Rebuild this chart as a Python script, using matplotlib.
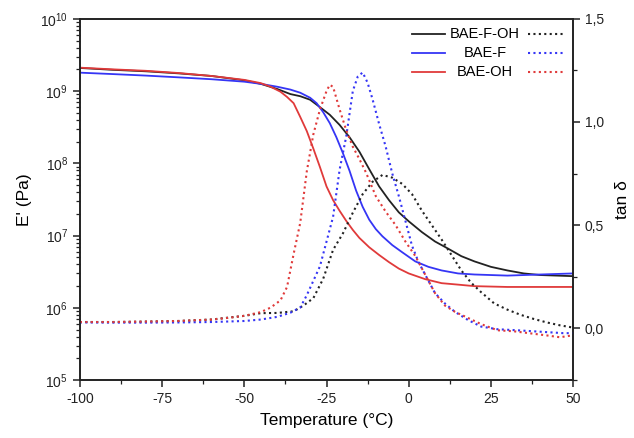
import matplotlib
matplotlib.use("Agg")
import matplotlib.pyplot as plt
from matplotlib.ticker import LogLocator, MultipleLocator, FuncFormatter, NullFormatter

plt.rcParams['font.family'] = ['Liberation Sans', 'DejaVu Sans']
plt.rcParams['mathtext.fontset'] = 'custom'
plt.rcParams['mathtext.rm'] = 'Liberation Sans'
plt.rcParams['mathtext.it'] = 'Liberation Sans:italic'
plt.rcParams['mathtext.bf'] = 'Liberation Sans:bold'
plt.rcParams['axes.unicode_minus'] = False

names = ['BAE-F-OH', 'BAE-F', 'BAE-OH']
colors = ['#222222', '#3535f5', '#e03a3a']

# storage modulus E' (Pa)
t_e_foh = [-100, -90, -80, -70, -60, -50, -45, -40, -36, -33, -30, -27, -24, -21, -18, -15,
           -12, -9, -6, -3, 0, 4, 8, 12, 16, 20, 25, 30, 35, 40, 45, 50]
e_foh = [2.09e9, 1.97e9, 1.88e9, 1.76e9, 1.62e9, 1.41e9, 1.26e9, 1.07e9, 9.1e8, 8.5e8, 7.6e8,
         6.0e8, 4.7e8, 3.4e8, 2.3e8, 1.45e8, 8.3e7, 4.8e7, 3.1e7, 2.1e7, 1.58e7, 1.12e7, 8.3e6,
         6.6e6, 5.2e6, 4.4e6, 3.7e6, 3.3e6, 3.0e6, 2.85e6, 2.8e6, 2.75e6]

t_e_f = [-100, -90, -80, -70, -60, -50, -45, -40, -36, -33, -30, -28, -26, -24, -22, -20, -18,
         -16, -14, -12, -10, -8, -5, -2, 2, 6, 10, 15, 20, 30, 40, 50]
e_f = [1.8e9, 1.72e9, 1.64e9, 1.55e9, 1.46e9, 1.35e9, 1.26e9, 1.15e9, 1.05e9, 9.5e8, 8.1e8,
       6.8e8, 5.1e8, 3.6e8, 2.3e8, 1.38e8, 7.9e7, 4.2e7, 2.5e7, 1.66e7, 1.23e7, 9.8e6, 7.4e6,
       5.9e6, 4.4e6, 3.7e6, 3.3e6, 3.0e6, 2.9e6, 2.8e6, 2.9e6, 3.0e6]

t_e_oh = [-100, -90, -80, -70, -60, -50, -45, -42, -39, -37, -35, -33, -31, -29, -27, -25, -23,
          -21, -19, -17, -15, -12, -9, -6, -3, 0, 5, 10, 15, 20, 30, 40, 50]
e_oh = [2.11e9, 2.0e9, 1.91e9, 1.78e9, 1.62e9, 1.43e9, 1.29e9, 1.15e9, 9.8e8, 8.3e8, 6.8e8,
        4.4e8, 2.8e8, 1.6e8, 8.9e7, 4.8e7, 3.1e7, 2.2e7, 1.6e7, 1.2e7, 9.3e6, 6.9e6, 5.4e6,
        4.3e6, 3.5e6, 3.0e6, 2.5e6, 2.2e6, 2.1e6, 2.0e6, 1.95e6, 1.95e6, 1.95e6]

# tan delta
t_d_foh = [-100, -90, -80, -70, -60, -50, -45, -40, -35, -32, -29, -26, -23, -20, -17, -14, -11,
           -8, -5, -2, 1, 4, 7, 10, 13, 16, 19, 22, 26, 30, 34, 38, 42, 46, 50]
d_foh = [0.03, 0.03, 0.032, 0.035, 0.042, 0.06, 0.073, 0.074, 0.082, 0.11, 0.146, 0.24, 0.38,
         0.46, 0.56, 0.65, 0.71, 0.743, 0.73, 0.70, 0.65, 0.57, 0.50, 0.43, 0.355, 0.28, 0.22,
         0.175, 0.12, 0.09, 0.065, 0.045, 0.028, 0.014, 0.003]

t_d_f = [-100, -90, -80, -70, -60, -50, -45, -40, -36, -33, -31, -29, -27, -25, -23, -21, -19,
         -17, -15.5, -14, -12.5, -11, -9, -7, -5, -3, -1, 1, 3, 5, 8, 11, 14, 18, 22, 27, 33,
         38, 43, 47, 50]
d_f = [0.028, 0.027, 0.027, 0.028, 0.03, 0.035, 0.042, 0.055, 0.075, 0.10, 0.16, 0.23, 0.30,
       0.42, 0.54, 0.77, 0.93, 1.15, 1.22, 1.24, 1.19, 1.11, 0.99, 0.88, 0.75, 0.64, 0.52, 0.40,
       0.32, 0.26, 0.17, 0.12, 0.08, 0.04, 0.008, -0.005, -0.01, -0.015, -0.02, -0.024, -0.024]

t_d_oh = [-100, -90, -80, -70, -60, -55, -50, -45, -42, -39, -37, -35, -33, -31, -29, -27, -25,
          -24, -23, -21, -19, -17, -15, -13, -10, -7, -4, -1, 2, 5, 8, 11, 14, 18, 22, 27, 32,
          37, 42, 46, 50]
d_oh = [0.03, 0.03, 0.032, 0.035, 0.042, 0.05, 0.06, 0.078, 0.10, 0.135, 0.20, 0.36, 0.51,
        0.76, 0.94, 1.06, 1.15, 1.18, 1.17, 1.06, 0.96, 0.88, 0.82, 0.755, 0.64, 0.565, 0.50,
        0.42, 0.35, 0.26, 0.17, 0.11, 0.08, 0.05, 0.02, -0.01, -0.015, -0.025, -0.035, -0.044,
        -0.034]

fig = plt.figure(figsize=(6.34, 4.38), dpi=100)
ax = fig.add_axes([0.126, 0.132, 0.778, 0.825])
ax2 = ax.twinx()

e_data = [(t_e_foh, e_foh), (t_e_f, e_f), (t_e_oh, e_oh)]
d_data = [(t_d_foh, d_foh), (t_d_f, d_f), (t_d_oh, d_oh)]
dot = (0, (1, 1.6))
for (t, e), c in zip(e_data, colors):
    ax.plot(t, e, color=c, lw=1.3)
for (t, d), c in zip(d_data, colors):
    ax2.plot(t, d, color=c, lw=1.5, linestyle=dot)

ax.set_yscale('log')
ax.set_ylim(1e5, 1e10)
ax.set_xlim(-100, 50)
ax.yaxis.set_major_locator(LogLocator(base=10, numticks=10))
ax.yaxis.set_minor_locator(LogLocator(base=10, subs=range(2, 10), numticks=20))
ax.yaxis.set_minor_formatter(NullFormatter())
ax.xaxis.set_major_locator(MultipleLocator(25))
ax.xaxis.set_minor_locator(MultipleLocator(12.5))

ax2.set_ylim(-0.252, 1.5)
ax2.yaxis.set_major_locator(MultipleLocator(0.5))
ax2.yaxis.set_minor_locator(MultipleLocator(0.25))
ax2.yaxis.set_major_formatter(FuncFormatter(lambda v, p: f'{v:.1f}'.replace('.', ',')))

for a in (ax, ax2):
    for s in a.spines.values():
        s.set_linewidth(1.2)
        s.set_color('#222222')
ax.tick_params(which='both', direction='out', top=False, right=False, labelsize=10, colors='#222222')
ax.tick_params(which='major', length=5, width=1.1)
ax.tick_params(which='minor', length=3, width=0.9)
ax2.tick_params(which='both', direction='out', labelsize=10, colors='#222222')
ax2.tick_params(which='major', length=5, width=1.1)
ax2.tick_params(which='minor', length=3, width=0.9)

ax.set_xlabel('Temperature (°C)', fontsize=12.5, labelpad=5)
ax.set_ylabel("E' (Pa)", fontsize=12.5, labelpad=6)
ax2.set_ylabel('tan δ', fontsize=12.5, labelpad=8)

# legend: solid handle, label, dotted handle
for i, (n, c) in enumerate(zip(names, colors)):
    y = 0.958 - i * 0.053
    ax.plot([0.673, 0.740], [y, y], color=c, lw=1.3, transform=ax.transAxes)
    ax.plot([0.909, 0.984], [y, y], color=c, lw=1.5, linestyle=dot, transform=ax.transAxes)
    ax.text(0.821, y, n, ha='center', va='center', fontsize=10.5, transform=ax.transAxes)

fig.savefig('out.png', dpi=100)
